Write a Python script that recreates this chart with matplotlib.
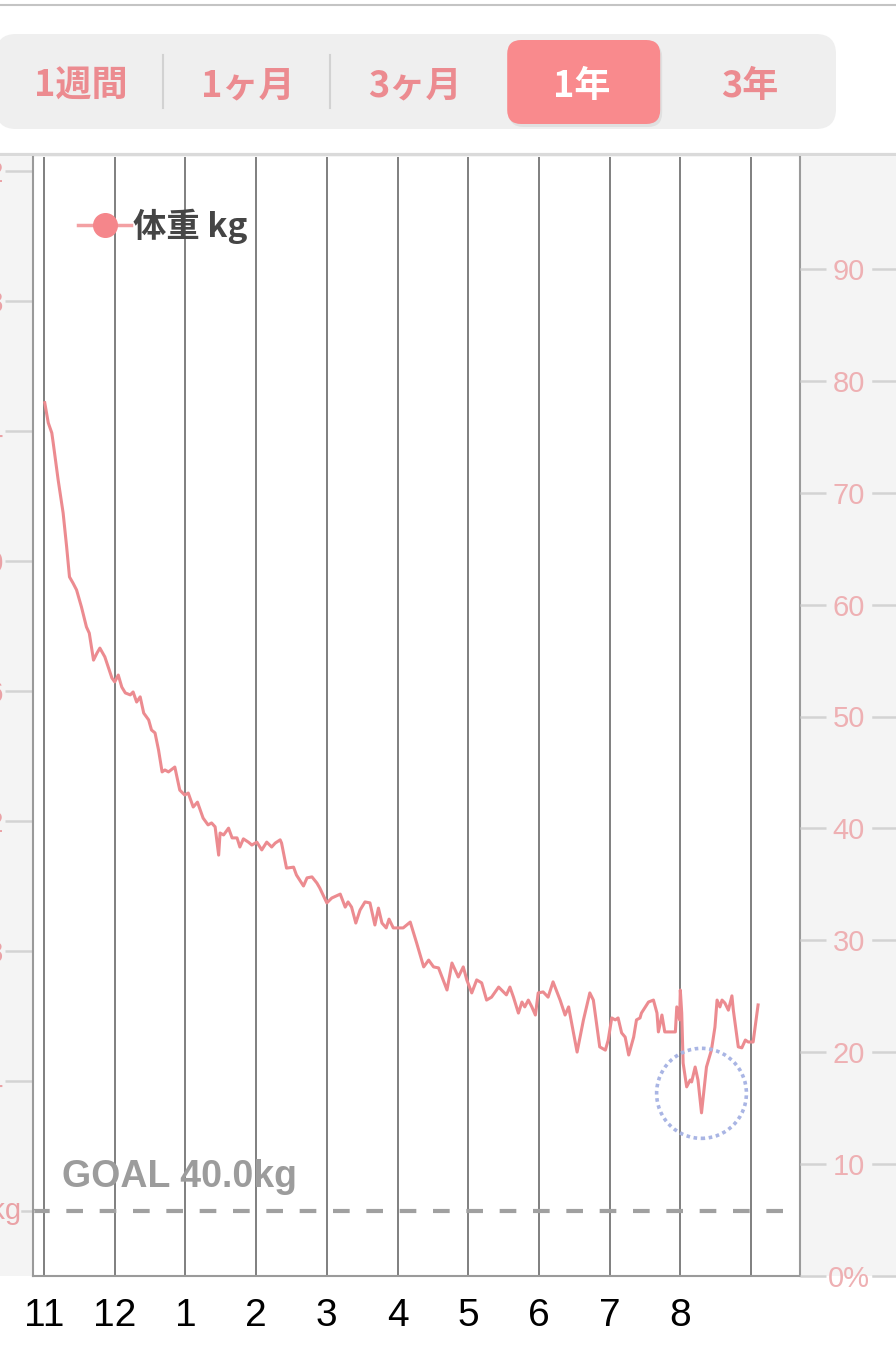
import matplotlib
matplotlib.use("Agg")
import matplotlib.pyplot as plt
import matplotlib.transforms as mtransforms
from matplotlib.patches import FancyBboxPatch, Rectangle, Ellipse
from matplotlib.lines import Line2D

plt.rcParams['font.family'] = ['Noto Sans CJK JP', 'DejaVu Sans']

# tabs on top
tabs = ['1週間', '1ヶ月', '3ヶ月', '1年', '3年']
selected = 3

# months (0 = Nov line), last line has no label
month_pos = [0, 1, 2, 3, 4, 5, 6, 7, 8, 9, 10]
month_labels = ['11', '12', '1', '2', '3', '4', '5', '6', '7', '8']

# weight series, x in months from the Nov line
t = [0.01, 0.06, 0.11, 0.13, 0.20, 0.25, 0.27, 0.32, 0.36, 0.41,
     0.46, 0.53, 0.60, 0.64, 0.70, 0.75, 0.79, 0.86, 0.96, 1.00,
     1.05, 1.10, 1.15, 1.22, 1.26, 1.31, 1.36, 1.41, 1.48, 1.52,
     1.57, 1.62, 1.67, 1.71, 1.76, 1.85, 1.92, 1.99, 2.04, 2.11,
     2.17, 2.25, 2.32, 2.37, 2.42, 2.47, 2.49, 2.54, 2.61, 2.66,
     2.73, 2.77, 2.82, 2.89, 2.94, 3.01, 3.08, 3.15, 3.22, 3.27,
     3.34, 3.36, 3.43, 3.53, 3.57, 3.67, 3.72, 3.79, 3.86, 3.90,
     4.00, 4.07, 4.19, 4.26, 4.30, 4.35, 4.41, 4.47, 4.54, 4.61,
     4.68, 4.73, 4.78, 4.84, 4.88, 4.94, 5.01, 5.08, 5.18, 5.27,
     5.37, 5.44, 5.51, 5.58, 5.70, 5.77, 5.86, 5.93, 5.98, 6.05,
     6.12, 6.19, 6.26, 6.33, 6.43, 6.50, 6.54, 6.59, 6.64, 6.71,
     6.76, 6.80, 6.85, 6.90, 6.95, 6.99, 7.06, 7.13, 7.20, 7.30,
     7.37, 7.42, 7.54, 7.63, 7.72, 7.77, 7.86, 7.94, 7.98, 8.03,
     8.08, 8.12, 8.17, 8.22, 8.27, 8.34, 8.38, 8.43, 8.45, 8.55,
     8.62, 8.67, 8.69, 8.74, 8.78, 8.85, 8.93, 8.95, 8.99, 9.00,
     9.02, 9.04, 9.09, 9.14, 9.16, 9.21, 9.25, 9.30, 9.35, 9.37,
     9.44, 9.49, 9.52, 9.56, 9.59, 9.63, 9.68, 9.73, 9.75, 9.82,
     9.87, 9.92, 9.96, 10.03, 10.10]
kg = [64.87, 64.25, 63.94, 63.63, 62.49, 61.78, 61.48, 60.43, 59.51, 59.32,
      59.11, 58.58, 57.97, 57.78, 56.95, 57.17, 57.32, 57.05, 56.40, 56.28,
      56.49, 56.12, 55.94, 55.88, 55.97, 55.66, 55.82, 55.32, 55.11, 54.80,
      54.71, 54.18, 53.51, 53.57, 53.51, 53.66, 52.95, 52.80, 52.86, 52.43,
      52.58, 52.09, 51.88, 51.94, 51.82, 50.95, 51.63, 51.57, 51.78, 51.48,
      51.48, 51.20, 51.45, 51.35, 51.26, 51.35, 51.11, 51.35, 51.20, 51.32,
      51.42, 51.32, 50.55, 50.58, 50.34, 50.00, 50.25, 50.28, 50.09, 49.94,
      49.48, 49.63, 49.75, 49.35, 49.51, 49.35, 48.86, 49.26, 49.51, 49.48,
      48.80, 49.32, 48.86, 48.71, 48.98, 48.71, 48.71, 48.71, 48.89, 48.25,
      47.51, 47.72, 47.51, 47.48, 46.80, 47.63, 47.20, 47.51, 47.11, 46.71,
      47.11, 47.02, 46.49, 46.58, 46.89, 46.74, 46.65, 46.89, 46.58, 46.09,
      46.43, 46.28, 46.49, 46.28, 46.03, 46.71, 46.74, 46.58, 47.05, 46.49,
      46.03, 46.28, 44.89, 45.88, 46.71, 46.49, 45.05, 44.95, 45.26, 45.94,
      45.88, 45.94, 45.48, 45.35, 44.80, 45.35, 45.88, 45.94, 46.09, 46.43,
      46.49, 46.09, 45.51, 46.03, 45.51, 45.51, 45.51, 46.28, 45.88, 46.80,
      46.09, 44.55, 43.82, 44.03, 43.97, 44.43, 44.03, 43.02, 44.03, 44.43,
      44.95, 45.66, 46.49, 46.28, 46.49, 46.40, 46.18, 46.62, 46.18, 45.05,
      45.02, 45.26, 45.20, 45.20, 46.34]

goal_kg = 40.0
kg_ticks = [44, 48, 52, 56, 60, 64, 68, 72]
pct_ticks = [0, 10, 20, 30, 40, 50, 60, 70, 80, 90]
pct_labels = ['0%', '10', '20', '30', '40', '50', '60', '70', '80', '90']

W, H = 896, 1356
PINK = '#ec8b90'
fig = plt.figure(figsize=(W / 100, H / 100), dpi=100)
fig.patch.set_facecolor('white')

def fy(py):
    return 1 - py / H

# gray band behind the chart
fig.add_artist(Rectangle((0, fy(1276)), 1, fy(155) - fy(1276), transform=fig.transFigure,
                         facecolor='#f4f4f4', edgecolor='none', zorder=0))

# header with tabs, pixel units
hdr = fig.add_axes([0, fy(156), 1, 156 / H])
hdr.set_xlim(0, W)
hdr.set_ylim(156, 0)
hdr.axis('off')
hdr.axhline(5, color='#c4c4c4', lw=1.5)
hdr.axhline(155, color='#dadada', lw=3)
hdr.add_patch(FancyBboxPatch((-4, 34), 840, 95, boxstyle='round,pad=0,rounding_size=20',
                             facecolor='#efefef', edgecolor='none'))
slot = 836 / len(tabs)
for i, lab in enumerate(tabs):
    cx = slot * (i + 0.5)
    col = PINK
    if i == selected:
        hdr.add_patch(FancyBboxPatch((cx - 76, 43), 153, 84, boxstyle='round,pad=0,rounding_size=14',
                                     facecolor='#000000', alpha=0.06, edgecolor='none'))
        hdr.add_patch(FancyBboxPatch((cx - 78, 40), 153, 84, boxstyle='round,pad=0,rounding_size=14',
                                     facecolor='#f98a8d', edgecolor='none'))
        col = 'white'
    hdr.text(cx - 3, 86, lab, ha='center', va='center', fontsize=26, fontweight='bold', color=col)
    # separators only between unselected neighbours
    if 0 < i and i != selected and i - 1 != selected and i < 3:
        hdr.plot([slot * i - 4, slot * i - 4], [55, 108], color='#d2d2d2', lw=1.5)

# main chart
ax = fig.add_axes([33 / W, fy(1276), (800 - 33) / W, fy(157) - fy(1276)])
ax.set_facecolor('white')
ax.set_xlim(-0.156, 10.693)
ax.set_ylim(38.0, 72.43)
for m in month_pos:
    ax.axvline(m, color='#5c5c5c', lw=1.1, zorder=1)
ax.axhline(goal_kg, color='#a0a0a0', lw=3, dashes=(4, 4), zorder=2)
ax.plot(t, kg, color=PINK, lw=2.2, zorder=3, solid_joinstyle='round')

for s in ['left', 'right', 'bottom']:
    ax.spines[s].set_color('#9a9a9a')
    ax.spines[s].set_linewidth(1.5)
ax.spines['top'].set_visible(False)

ax.set_xticks(month_pos[:len(month_labels)])
ax.set_xticklabels(month_labels, family=['Liberation Sans Narrow', 'Liberation Sans'])
ax.tick_params(axis='x', length=0, pad=16, labelsize=28, labelcolor='black')

ax.set_yticks(kg_ticks)
ax.set_yticklabels([str(v) for v in kg_ticks], family=['Liberation Sans', 'DejaVu Sans'])
ax.tick_params(axis='y', length=20, width=1.8, color='#d3d3d3', pad=1, labelsize=21, labelcolor='#eaa2a6')

# goal label on the left and the GOAL text
blend = mtransforms.blended_transform_factory(ax.transAxes, ax.transData)
ax.plot([-0.0143, 0], [goal_kg, goal_kg], transform=blend, clip_on=False, color='#d3d3d3', lw=1.8)
ax.annotate('40.0kg', xy=(0, goal_kg), xycoords=blend, xytext=(-8, 0), textcoords='offset points',
            ha='right', va='center', fontsize=21, color='#eaa2a6', family=['Liberation Sans', 'DejaVu Sans'],
            annotation_clip=False)
ax.annotate('GOAL %.1fkg' % goal_kg, xy=(0, goal_kg), xycoords=blend, xytext=(21, 17),
            textcoords='offset points', ha='left', va='baseline', fontsize=27, fontweight='bold',
            color='#9c9c9c', family=['Liberation Sans', 'DejaVu Sans'])

# hand drawn circle around the lowest point
i_min = kg.index(min(kg))
ax.add_patch(Ellipse((t[i_min], kg[i_min] + 0.6), 1.27, 2.77, fill=False, edgecolor='#a9b5e4',
                     lw=2.6, linestyle=(0, (1, 1)), zorder=4))

# legend
handle = Line2D([], [], color='#f3a0a3', lw=2.5, marker='o', ms=17, mfc='#f5868b', mec='#f5868b')
leg = ax.legend([handle], ['体重 kg'], loc='center left', bbox_to_anchor=(0.0587, 0.938), frameon=False,
                handlelength=1.6, handletextpad=0.05, borderpad=0, borderaxespad=0,
                prop={'family': ['Noto Sans CJK JP', 'DejaVu Sans'], 'size': 24, 'weight': 'bold'})
for txt in leg.get_texts():
    txt.set_color('#454545')

# right axis in percent
ax2 = ax.twinx()
ax2.set_ylim(0, 100)
ax2.set_yticks(pct_ticks)
ax2.set_yticklabels(pct_labels, family=['Liberation Sans', 'DejaVu Sans'])
ax2.tick_params(axis='y', length=19, width=1.8, color='#d3d3d3', pad=16, labelsize=21, labelcolor='#eeb0b3')
for lab in ax2.get_yticklabels():
    lab.set_ha('center')
blend2 = mtransforms.blended_transform_factory(ax2.transAxes, ax2.transData)
for p in pct_ticks:
    ax2.plot([1.095, 1.13], [p, p], transform=blend2, clip_on=False, color='#d3d3d3', lw=1.8, zorder=1)
for s in ax2.spines.values():
    s.set_visible(False)

fig.savefig('out.png', dpi=100, facecolor=fig.get_facecolor())
